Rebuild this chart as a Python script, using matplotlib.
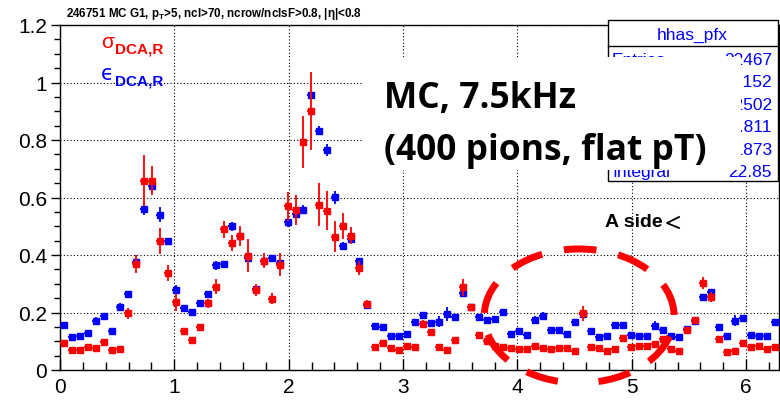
import numpy as np
import matplotlib.pyplot as plt
from matplotlib.patches import Ellipse, Rectangle
from matplotlib.lines import Line2D
from matplotlib.ticker import MultipleLocator

plt.rcParams['font.family'] = ['Liberation Sans', 'DejaVu Sans']
plt.rcParams['mathtext.fontset'] = 'custom'
plt.rcParams['mathtext.rm'] = 'Liberation Sans'
plt.rcParams['mathtext.bf'] = 'Liberation Sans:bold'
plt.rcParams['mathtext.it'] = 'Liberation Sans:italic'

N_BINS = 90
PHI_MAX = 2 * np.pi

# sigma_DCA,R per phi bin (red)
sigma = [0.093, 0.071, 0.071, 0.079, 0.075, 0.096, 0.071, 0.074, 0.197, 0.369,
         0.659, 0.659, 0.448, 0.337, 0.236, 0.134, 0.103, 0.151, 0.232, 0.290,
         0.490, 0.441, 0.467, 0.398, 0.279, 0.380, 0.248, 0.366, 0.570, 0.556,
         0.793, 0.902, 0.575, 0.554, 0.464, 0.502, 0.467, 0.354, 0.230, 0.079,
         0.095, 0.076, 0.071, 0.085, 0.081, 0.160, 0.131, 0.079, 0.071, 0.103,
         0.288, 0.220, 0.122, 0.102, 0.085, 0.080, 0.075, 0.072, 0.073, 0.082,
         0.077, 0.073, 0.077, 0.075, 0.067, 0.197, 0.079, 0.077, 0.066, 0.072,
         0.110, 0.079, 0.082, 0.082, 0.090, 0.108, 0.072, 0.067, 0.140, 0.173,
         0.303, 0.253, 0.108, 0.064, 0.067, 0.094, 0.079, 0.082, 0.073, 0.079]
sigma_err = [0.006, 0.005, 0.005, 0.006, 0.005, 0.007, 0.005, 0.005, 0.020, 0.030,
             0.090, 0.050, 0.045, 0.027, 0.030, 0.008, 0.008, 0.010, 0.015, 0.025,
             0.030, 0.028, 0.034, 0.058, 0.020, 0.026, 0.020, 0.040, 0.050, 0.053,
             0.090, 0.136, 0.074, 0.068, 0.055, 0.045, 0.030, 0.025, 0.012, 0.006,
             0.006, 0.005, 0.005, 0.006, 0.006, 0.015, 0.008, 0.005, 0.005, 0.008,
             0.030, 0.008, 0.006, 0.006, 0.005, 0.005, 0.005, 0.005, 0.005, 0.006,
             0.005, 0.005, 0.005, 0.005, 0.005, 0.025, 0.005, 0.005, 0.005, 0.005,
             0.008, 0.005, 0.005, 0.005, 0.006, 0.006, 0.005, 0.005, 0.008, 0.008,
             0.020, 0.017, 0.008, 0.005, 0.005, 0.008, 0.005, 0.005, 0.005, 0.005]

# epsilon_DCA,R per phi bin (blue)
eps = [0.158, 0.115, 0.118, 0.130, 0.172, 0.189, 0.134, 0.220, 0.264, 0.374,
       0.560, 0.641, 0.540, 0.448, 0.279, 0.216, 0.201, 0.232, 0.263, 0.364,
       0.370, 0.500, 0.465, 0.391, 0.282, 0.380, 0.388, 0.372, 0.514, 0.543,
       0.558, 0.958, 0.832, 0.766, 0.601, 0.432, 0.456, 0.378, 0.226, 0.154,
       0.151, 0.119, 0.119, 0.125, 0.166, 0.192, 0.162, 0.168, 0.195, 0.183,
       0.268, 0.218, 0.185, 0.174, 0.177, 0.201, 0.126, 0.134, 0.122, 0.174,
       0.188, 0.139, 0.139, 0.126, 0.166, 0.195, 0.134, 0.115, 0.118, 0.158,
       0.158, 0.122, 0.119, 0.119, 0.154, 0.139, 0.119, 0.116, 0.141, 0.172,
       0.255, 0.270, 0.151, 0.119, 0.172, 0.181, 0.123, 0.119, 0.119, 0.166]
eps_err = [0.007, 0.006, 0.006, 0.007, 0.012, 0.007, 0.006, 0.012, 0.012, 0.010,
           0.020, 0.023, 0.026, 0.012, 0.015, 0.007, 0.007, 0.008, 0.008, 0.015,
           0.010, 0.015, 0.010, 0.010, 0.008, 0.010, 0.010, 0.010, 0.015, 0.012,
           0.015, 0.010, 0.015, 0.020, 0.022, 0.012, 0.015, 0.010, 0.007, 0.006,
           0.006, 0.006, 0.006, 0.006, 0.008, 0.008, 0.008, 0.020, 0.023, 0.008,
           0.010, 0.008, 0.008, 0.007, 0.010, 0.008, 0.006, 0.008, 0.006, 0.015,
           0.015, 0.006, 0.006, 0.006, 0.008, 0.008, 0.006, 0.006, 0.006, 0.008,
           0.008, 0.006, 0.006, 0.006, 0.015, 0.008, 0.006, 0.006, 0.008, 0.008,
           0.010, 0.012, 0.008, 0.006, 0.018, 0.008, 0.006, 0.006, 0.006, 0.010]

X_TICKS = [0, 1, 2, 3, 4, 5, 6]
Y_TICKS = [0, 0.2, 0.4, 0.6, 0.8, 1.0, 1.2]
Y_LABELS = ['0', '0.2', '0.4', '0.6', '0.8', '1', '1.2']

TITLE = r'246751 MC G1, p$_{\mathbf{T}}$>5, ncl>70, ncrow/nclsF>0.8, |η|<0.8'
STATS_NAME = 'hhas_pfx'
STATS_KEYS = ['Entries', 'Mean', 'Mean y', 'Std Dev', 'Std Dev y', 'Integral']
STATS_VALS = ['22467', '3.152', '0.2502', '1.811', '0.1873', '22.85']

W, H = 780, 402


def fpos(x, y):
    # pixel position (from top-left) -> figure fraction
    return x / W, 1 - y / H


edges = np.linspace(0, PHI_MAX, N_BINS + 1)
centers = 0.5 * (edges[:-1] + edges[1:])
half_w = 0.5 * (edges[1] - edges[0])

fig = plt.figure(figsize=(W / 100, H / 100), dpi=100)
ax = fig.add_axes([60 / W, 31 / H, 718.5 / W, 345 / H])

ax.errorbar(centers, eps, yerr=eps_err, xerr=half_w, fmt='s', color='#0000ff',
            ms=4.8, elinewidth=1.3, capsize=0, zorder=3)
ax.errorbar(centers, sigma, yerr=sigma_err, xerr=half_w, fmt='s', color='#ff0000',
            ms=4.8, elinewidth=1.3, capsize=0, zorder=4)

ax.set_xlim(0, PHI_MAX)
ax.set_ylim(0, 1.2)
ax.set_xticks(X_TICKS)
ax.set_xticklabels([str(t) for t in X_TICKS])
ax.set_yticks(Y_TICKS)
ax.set_yticklabels(Y_LABELS)
ax.xaxis.set_minor_locator(MultipleLocator(0.2))
ax.yaxis.set_minor_locator(MultipleLocator(0.05))
ax.tick_params(axis='x', which='major', direction='in', length=8, width=1,
               labelsize=15, pad=5)
ax.tick_params(axis='x', which='minor', direction='in', length=5.5, width=1)
ax.tick_params(axis='y', which='major', direction='out', length=6.5, width=1,
               labelsize=15, pad=3)
ax.tick_params(axis='y', which='minor', direction='out', length=4.3, width=1)
ax.grid(True, which='major', linestyle=(0, (1, 2)), color='black', linewidth=0.8)
for s in ax.spines.values():
    s.set_linewidth(1)

# dashed ellipse around the A side region
ring = Ellipse((4.54, 0.188), 1.66, 0.466, fill=False, edgecolor='#ff0000',
               linewidth=5, clip_on=False, zorder=6)
ring.set_linestyle((5.1, (4.7, 3.2)))
ax.add_patch(ring)

# title
fig.text(*fpos(66, 17), TITLE, fontsize=8.4, fontweight='bold', va='baseline')

# sigma / epsilon labels
fig.text(*fpos(101, 48), 'σ', color='#ff0000', fontsize=15, va='baseline')
fig.text(*fpos(115, 53), 'DCA,R', color='#ff0000', fontsize=11,
         fontweight='bold', va='baseline')
fig.text(*fpos(101, 80), 'ϵ', color='#0000ff', fontsize=15, va='baseline',
         family=['DejaVu Sans'])
fig.text(*fpos(115, 85), 'DCA,R', color='#0000ff', fontsize=11,
         fontweight='bold', va='baseline')

# statistics box
x0, y0 = fpos(608, 182)
x1, y1 = fpos(778, 21)
fig.add_artist(Rectangle((x0, y0), x1 - x0, y1 - y0, transform=fig.transFigure,
                         facecolor='white', edgecolor='black', linewidth=1,
                         zorder=2))
sep_y = fpos(0, 47)[1]
fig.add_artist(Line2D([x0, x1], [sep_y, sep_y], transform=fig.transFigure,
                      color='black', linewidth=1, zorder=2.1))
fig.text(*fpos(692, 40), STATS_NAME, color='#0000ff', fontsize=12.5,
         ha='center', va='baseline', zorder=2.2)
for i, (k, v) in enumerate(zip(STATS_KEYS, STATS_VALS)):
    yb = 65 + 22.4 * i
    fig.text(*fpos(612, yb), k, color='#0000ff', fontsize=12.5,
             va='baseline', zorder=2.2)
    fig.text(*fpos(772, yb), v, color='#0000ff', fontsize=12.5,
             ha='right', va='baseline', zorder=2.2)

# annotation with white background
wx0, wy0 = fpos(363, 171)
wx1, wy1 = fpos(741, 58)
fig.add_artist(Rectangle((wx0, wy0), wx1 - wx0, wy1 - wy0,
                         transform=fig.transFigure, facecolor='white',
                         edgecolor='none', zorder=2.5))
fig.text(*fpos(384, 108), 'MC, 7.5kHz', fontsize=25.5, family='Open Sans',
         fontweight='bold', va='baseline', zorder=3)
fig.text(*fpos(384, 160), '(400 pions, flat pT)', fontsize=25.5,
         family='Open Sans', fontweight='bold', va='baseline', zorder=3)

# side label with a small hand-drawn pointer
fig.text(*fpos(605, 227), 'A side', fontsize=14, fontweight='bold',
         va='baseline', zorder=3)
px_pts = [fpos(679, 218), fpos(667, 224), fpos(679, 229)]
fig.add_artist(Line2D([p[0] for p in px_pts], [p[1] for p in px_pts],
                      transform=fig.transFigure, color='black', linewidth=1.3,
                      zorder=3))

fig.savefig('out.png', dpi=100)
